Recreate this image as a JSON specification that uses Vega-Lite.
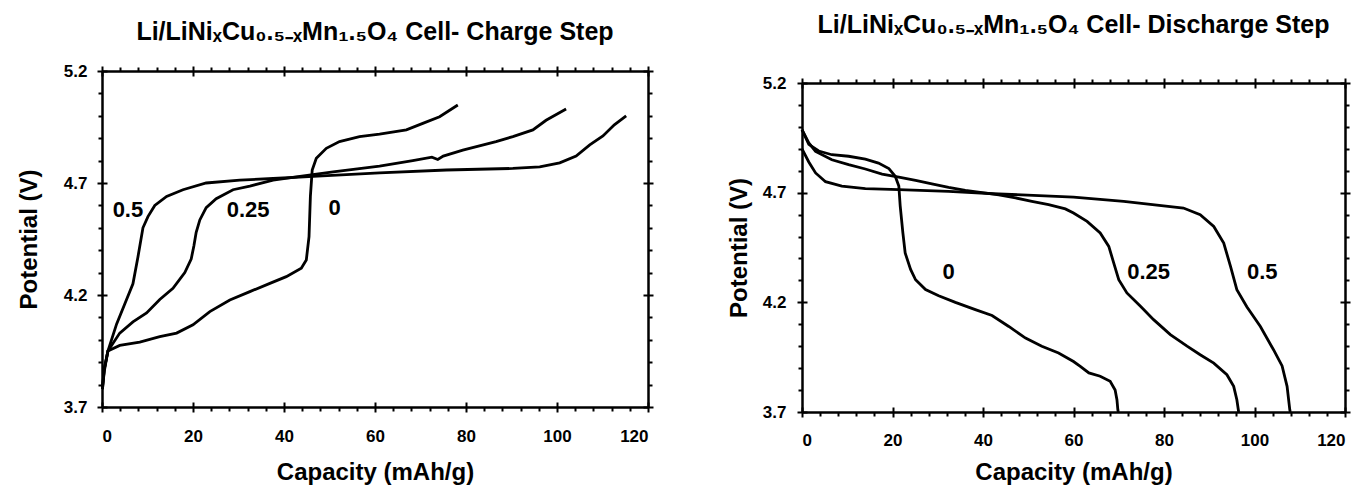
{
  "$schema": "https://vega.github.io/schema/vega-lite/v6.json",
  "background": "white",
  "padding": {"left": 17, "top": 13, "right": 5, "bottom": 5},
  "spacing": 73,
  "config": {
    "view": {"stroke": null},
    "font": "Liberation Sans",
    "axis": {
      "grid": false,
      "labelFont": "Liberation Sans", "labelFontWeight": "bold", "labelFontSize": 16, "labelColor": "black",
      "titleFont": "Liberation Sans", "titleFontWeight": "bold", "titleFontSize": 24, "titleColor": "black",
      "domainColor": "black", "domainWidth": 2.5, "tickColor": "black", "tickWidth": 2
    },
    "title": {"font": "Liberation Sans", "fontWeight": "bold", "fontSize": 25, "color": "black"}
  },
  "datasets": {
    "charge": [
      {"s":"0.5","i":0,"c":0.1,"v":3.78},{"s":"0.5","i":1,"c":0.5,"v":3.86},{"s":"0.5","i":2,"c":1.3,"v":3.95},{"s":"0.5","i":3,"c":3.2,"v":4.07},{"s":"0.5","i":4,"c":5.0,"v":4.16},{"s":"0.5","i":5,"c":6.8,"v":4.25},{"s":"0.5","i":6,"c":7.9,"v":4.37},{"s":"0.5","i":7,"c":9.0,"v":4.50},{"s":"0.5","i":8,"c":10.1,"v":4.55},{"s":"0.5","i":9,"c":11.6,"v":4.60},{"s":"0.5","i":10,"c":14.2,"v":4.64},{"s":"0.5","i":11,"c":17.8,"v":4.67},{"s":"0.5","i":12,"c":22.9,"v":4.70},{"s":"0.5","i":13,"c":30.3,"v":4.713},{"s":"0.5","i":14,"c":37.6,"v":4.72},{"s":"0.5","i":15,"c":46.4,"v":4.73},{"s":"0.5","i":16,"c":61.0,"v":4.745},{"s":"0.5","i":17,"c":75.7,"v":4.758},{"s":"0.5","i":18,"c":90.3,"v":4.765},{"s":"0.5","i":19,"c":96.2,"v":4.772},{"s":"0.5","i":20,"c":100.6,"v":4.79},{"s":"0.5","i":21,"c":104.2,"v":4.82},{"s":"0.5","i":22,"c":107.2,"v":4.87},{"s":"0.5","i":23,"c":110.1,"v":4.91},{"s":"0.5","i":24,"c":112.6,"v":4.96},{"s":"0.5","i":25,"c":115.2,"v":5.0},
      {"s":"0.25","i":0,"c":0.1,"v":3.79},{"s":"0.25","i":1,"c":0.5,"v":3.87},{"s":"0.25","i":2,"c":1.3,"v":3.95},{"s":"0.25","i":3,"c":3.9,"v":4.03},{"s":"0.25","i":4,"c":6.8,"v":4.08},{"s":"0.25","i":5,"c":9.8,"v":4.12},{"s":"0.25","i":6,"c":12.7,"v":4.18},{"s":"0.25","i":7,"c":15.6,"v":4.23},{"s":"0.25","i":8,"c":18.2,"v":4.30},{"s":"0.25","i":9,"c":19.6,"v":4.36},{"s":"0.25","i":10,"c":20.2,"v":4.42},{"s":"0.25","i":11,"c":20.7,"v":4.48},{"s":"0.25","i":12,"c":21.5,"v":4.535},{"s":"0.25","i":13,"c":22.9,"v":4.59},{"s":"0.25","i":14,"c":25.1,"v":4.63},{"s":"0.25","i":15,"c":28.8,"v":4.67},{"s":"0.25","i":16,"c":32.5,"v":4.686},{"s":"0.25","i":17,"c":37.6,"v":4.713},{"s":"0.25","i":18,"c":43.5,"v":4.73},{"s":"0.25","i":19,"c":50.8,"v":4.75},{"s":"0.25","i":20,"c":61.0,"v":4.775},{"s":"0.25","i":21,"c":68.3,"v":4.80},{"s":"0.25","i":22,"c":72.5,"v":4.815},{"s":"0.25","i":23,"c":73.8,"v":4.805},{"s":"0.25","i":24,"c":75.0,"v":4.82},{"s":"0.25","i":25,"c":79.3,"v":4.847},{"s":"0.25","i":26,"c":86.6,"v":4.885},{"s":"0.25","i":27,"c":90.3,"v":4.907},{"s":"0.25","i":28,"c":94.7,"v":4.937},{"s":"0.25","i":29,"c":97.6,"v":4.98},{"s":"0.25","i":30,"c":102.0,"v":5.03},
      {"s":"0","i":0,"c":0.1,"v":3.78},{"s":"0","i":1,"c":0.5,"v":3.87},{"s":"0","i":2,"c":1.3,"v":3.95},{"s":"0","i":3,"c":3.9,"v":3.975},{"s":"0","i":4,"c":8.3,"v":3.99},{"s":"0","i":5,"c":12.7,"v":4.014},{"s":"0","i":6,"c":16.4,"v":4.03},{"s":"0","i":7,"c":20.0,"v":4.067},{"s":"0","i":8,"c":23.7,"v":4.126},{"s":"0","i":9,"c":28.1,"v":4.178},{"s":"0","i":10,"c":32.5,"v":4.215},{"s":"0","i":11,"c":36.9,"v":4.252},{"s":"0","i":12,"c":40.5,"v":4.282},{"s":"0","i":13,"c":43.8,"v":4.32},{"s":"0","i":14,"c":44.9,"v":4.356},{"s":"0","i":15,"c":45.5,"v":4.46},{"s":"0","i":16,"c":45.8,"v":4.64},{"s":"0","i":17,"c":46.2,"v":4.758},{"s":"0","i":18,"c":47.1,"v":4.81},{"s":"0","i":19,"c":49.3,"v":4.855},{"s":"0","i":20,"c":52.2,"v":4.885},{"s":"0","i":21,"c":56.6,"v":4.907},{"s":"0","i":22,"c":61.0,"v":4.918},{"s":"0","i":23,"c":66.9,"v":4.937},{"s":"0","i":24,"c":70.5,"v":4.966},{"s":"0","i":25,"c":74.2,"v":4.996},{"s":"0","i":26,"c":78.2,"v":5.048}
    ],
    "discharge": [
      {"s":"0","i":0,"c":0,"v":4.987},{"s":"0","i":1,"c":1.5,"v":4.92},{"s":"0","i":2,"c":3.7,"v":4.89},{"s":"0","i":3,"c":6.6,"v":4.873},{"s":"0","i":4,"c":10.3,"v":4.866},{"s":"0","i":5,"c":14.0,"v":4.853},{"s":"0","i":6,"c":16.9,"v":4.835},{"s":"0","i":7,"c":19.2,"v":4.81},{"s":"0","i":8,"c":20.6,"v":4.775},{"s":"0","i":9,"c":21.4,"v":4.73},{"s":"0","i":10,"c":21.7,"v":4.64},{"s":"0","i":11,"c":22.3,"v":4.516},{"s":"0","i":12,"c":22.8,"v":4.425},{"s":"0","i":13,"c":24.0,"v":4.35},{"s":"0","i":14,"c":25.1,"v":4.303},{"s":"0","i":15,"c":27.3,"v":4.258},{"s":"0","i":16,"c":30.2,"v":4.23},{"s":"0","i":17,"c":33.9,"v":4.2},{"s":"0","i":18,"c":38.3,"v":4.167},{"s":"0","i":19,"c":42.0,"v":4.14},{"s":"0","i":20,"c":45.7,"v":4.09},{"s":"0","i":21,"c":49.4,"v":4.037},{"s":"0","i":22,"c":53.0,"v":4.0},{"s":"0","i":23,"c":56.7,"v":3.969},{"s":"0","i":24,"c":60.0,"v":3.93},{"s":"0","i":25,"c":61.5,"v":3.908},{"s":"0","i":26,"c":63.4,"v":3.878},{"s":"0","i":27,"c":65.9,"v":3.863},{"s":"0","i":28,"c":68.1,"v":3.84},{"s":"0","i":29,"c":69.2,"v":3.8},{"s":"0","i":30,"c":69.6,"v":3.756},{"s":"0","i":31,"c":69.8,"v":3.71},{"s":"0","i":32,"c":69.9,"v":3.7},
      {"s":"0.25","i":0,"c":0,"v":4.987},{"s":"0.25","i":1,"c":1.5,"v":4.927},{"s":"0.25","i":2,"c":3.0,"v":4.888},{"s":"0.25","i":3,"c":6.6,"v":4.85},{"s":"0.25","i":4,"c":10.3,"v":4.828},{"s":"0.25","i":5,"c":14.0,"v":4.808},{"s":"0.25","i":6,"c":17.7,"v":4.785},{"s":"0.25","i":7,"c":21.4,"v":4.771},{"s":"0.25","i":8,"c":25.1,"v":4.756},{"s":"0.25","i":9,"c":28.7,"v":4.74},{"s":"0.25","i":10,"c":32.4,"v":4.724},{"s":"0.25","i":11,"c":36.1,"v":4.71},{"s":"0.25","i":12,"c":39.8,"v":4.7},{"s":"0.25","i":13,"c":43.5,"v":4.69},{"s":"0.25","i":14,"c":47.2,"v":4.676},{"s":"0.25","i":15,"c":50.8,"v":4.66},{"s":"0.25","i":16,"c":54.5,"v":4.645},{"s":"0.25","i":17,"c":58.2,"v":4.626},{"s":"0.25","i":18,"c":60.0,"v":4.607},{"s":"0.25","i":19,"c":63.0,"v":4.569},{"s":"0.25","i":20,"c":65.9,"v":4.516},{"s":"0.25","i":21,"c":67.8,"v":4.455},{"s":"0.25","i":22,"c":68.9,"v":4.379},{"s":"0.25","i":23,"c":70.0,"v":4.303},{"s":"0.25","i":24,"c":71.8,"v":4.243},{"s":"0.25","i":25,"c":74.8,"v":4.182},{"s":"0.25","i":26,"c":77.7,"v":4.121},{"s":"0.25","i":27,"c":81.4,"v":4.053},{"s":"0.25","i":28,"c":85.1,"v":4.0},{"s":"0.25","i":29,"c":88.0,"v":3.961},{"s":"0.25","i":30,"c":91.0,"v":3.923},{"s":"0.25","i":31,"c":93.9,"v":3.87},{"s":"0.25","i":32,"c":95.4,"v":3.817},{"s":"0.25","i":33,"c":96.1,"v":3.756},{"s":"0.25","i":34,"c":96.5,"v":3.7},
      {"s":"0.5","i":0,"c":0,"v":4.9},{"s":"0.5","i":1,"c":1.5,"v":4.84},{"s":"0.5","i":2,"c":3.0,"v":4.79},{"s":"0.5","i":3,"c":5.2,"v":4.75},{"s":"0.5","i":4,"c":8.8,"v":4.73},{"s":"0.5","i":5,"c":14.0,"v":4.718},{"s":"0.5","i":6,"c":21.4,"v":4.714},{"s":"0.5","i":7,"c":32.4,"v":4.706},{"s":"0.5","i":8,"c":43.5,"v":4.694},{"s":"0.5","i":9,"c":60.0,"v":4.68},{"s":"0.5","i":10,"c":71.1,"v":4.66},{"s":"0.5","i":11,"c":84.3,"v":4.63},{"s":"0.5","i":12,"c":88.0,"v":4.6},{"s":"0.5","i":13,"c":91.0,"v":4.546},{"s":"0.5","i":14,"c":93.2,"v":4.47},{"s":"0.5","i":15,"c":94.7,"v":4.364},{"s":"0.5","i":16,"c":96.1,"v":4.258},{"s":"0.5","i":17,"c":98.3,"v":4.18},{"s":"0.5","i":18,"c":101.3,"v":4.09},{"s":"0.5","i":19,"c":104.2,"v":3.984},{"s":"0.5","i":20,"c":106.1,"v":3.91},{"s":"0.5","i":21,"c":107.2,"v":3.817},{"s":"0.5","i":22,"c":107.8,"v":3.71},{"s":"0.5","i":23,"c":107.9,"v":3.7}
    ],
    "lab_c": [{"c":5.7,"v":4.58,"t":"0.5"},{"c":32.1,"v":4.58,"t":"0.25"},{"c":51.1,"v":4.59,"t":"0"}],
    "lab_d": [{"c":32.4,"v":4.34,"t":"0"},{"c":76.6,"v":4.337,"t":"0.25"},{"c":101.7,"v":4.337,"t":"0.5"}]
  },
  "hconcat": [
    {
      "width": 546, "height": 336,
      "title": {"text": "Li/LiNiₓCu₀.₅₋ₓMn₁.₅O₄ Cell- Charge Step", "offset": 17},
      "data": {"name": "charge"},
      "layer": [
        {
          "mark": {"type": "line", "color": "black", "strokeWidth": 2.8},
          "encoding": {
            "x": {"field": "c", "type": "quantitative", "scale": {"domain": [0, 120], "nice": false, "zero": false},
              "axis": {"orient": "bottom", "values": [0,20,40,60,80,100,120], "format": "d", "tickSize": 5, "labelPadding": 16, "labelFontSize": 17, "labelFontWeight": "bold", "title": "Capacity (mAh/g)", "titlePadding": 16}},
            "y": {"field": "v", "type": "quantitative", "scale": {"domain": [3.7, 5.2], "nice": false, "zero": false},
              "axis": {"orient": "left", "values": [3.7,4.2,4.7,5.2], "format": ".1f", "tickSize": 5, "labelPadding": 10, "labelFontSize": 17, "labelFontWeight": "bold", "title": "Potential (V)", "titlePadding": 22}},
            "detail": {"field": "s"},
            "order": {"field": "i"}
          }
        },
        {
          "data": {"name": "lab_c"},
          "mark": {"type": "text", "font": "Liberation Sans", "fontWeight": "bold", "fontSize": 22, "align": "center", "baseline": "middle", "color": "black"},
          "encoding": {
            "x": {"field": "c", "type": "quantitative", "scale": {"domain": [0, 120], "nice": false, "zero": false},
              "axis": {"orient": "bottom", "values": [0,4,8,12,16,20,24,28,32,36,40,44,48,52,56,60,64,68,72,76,80,84,88,92,96,100,104,108,112,116,120], "labels": false, "domain": false, "title": null,
                "tickSize": {"condition": {"test": "datum.value % 20 === 0", "value": -5}, "value": 4}}},
            "y": {"field": "v", "type": "quantitative", "scale": {"domain": [3.7, 5.2], "nice": false, "zero": false},
              "axis": {"orient": "left", "values": [3.7,3.8,3.9,4.0,4.1,4.2,4.3,4.4,4.5,4.6,4.7,4.8,4.9,5.0,5.1,5.2], "labels": false, "domain": false, "title": null,
                "tickSize": {"condition": {"test": "round(datum.value*10) % 5 === 2", "value": -5}, "value": 4}}},
            "text": {"field": "t"}
          }
        },
        {
          "mark": {"type": "line", "opacity": 0},
          "encoding": {
            "x": {"field": "c", "type": "quantitative", "axis": {"orient": "top", "values": [0,20,40,60,80,100,120], "labels": false, "tickSize": 5, "title": null}},
            "y": {"field": "v", "type": "quantitative", "axis": {"orient": "right", "values": [3.7,4.2,4.7,5.2], "labels": false, "tickSize": 5, "title": null}},
            "detail": {"field": "s"}
          }
        },
        {
          "mark": {"type": "line", "opacity": 0},
          "encoding": {
            "x": {"field": "c", "type": "quantitative", "axis": {"orient": "top", "values": [0,4,8,12,16,20,24,28,32,36,40,44,48,52,56,60,64,68,72,76,80,84,88,92,96,100,104,108,112,116,120], "labels": false, "domain": false, "title": null,
                "tickSize": {"condition": {"test": "datum.value % 20 === 0", "value": -5}, "value": 4}}},
            "y": {"field": "v", "type": "quantitative", "axis": {"orient": "right", "values": [3.7,3.8,3.9,4.0,4.1,4.2,4.3,4.4,4.5,4.6,4.7,4.8,4.9,5.0,5.1,5.2], "labels": false, "domain": false, "title": null,
                "tickSize": {"condition": {"test": "round(datum.value*10) % 5 === 2", "value": -5}, "value": 4}}},
            "detail": {"field": "s"}
          }
        }
      ],
      "resolve": {"axis": {"x": "independent", "y": "independent"}}
    },
    {
      "width": 543, "height": 341,
      "title": {"text": "Li/LiNiₓCu₀.₅₋ₓMn₁.₅O₄ Cell- Discharge Step", "offset": 33},
      "data": {"name": "discharge"},
      "layer": [
        {
          "mark": {"type": "line", "color": "black", "strokeWidth": 2.8},
          "encoding": {
            "x": {"field": "c", "type": "quantitative", "scale": {"domain": [0, 120], "nice": false, "zero": false},
              "axis": {"orient": "bottom", "values": [0,20,40,60,80,100,120], "format": "d", "tickSize": 5, "labelPadding": 15, "labelFontSize": 17, "labelFontWeight": "bold", "title": "Capacity (mAh/g)", "titlePadding": 12}},
            "y": {"field": "v", "type": "quantitative", "scale": {"domain": [3.7, 5.2], "nice": false, "zero": false, "range": [341, 12]},
              "axis": {"orient": "left", "values": [3.7,4.2,4.7,5.2], "format": ".1f", "tickSize": 5, "labelPadding": 11, "labelFontSize": 17, "labelFontWeight": "bold", "title": "Potential (V)", "titlePadding": 11}},
            "detail": {"field": "s"},
            "order": {"field": "i"}
          }
        },
        {
          "data": {"name": "lab_d"},
          "mark": {"type": "text", "font": "Liberation Sans", "fontWeight": "bold", "fontSize": 22, "align": "center", "baseline": "middle", "color": "black"},
          "encoding": {
            "x": {"field": "c", "type": "quantitative", "scale": {"domain": [0, 120], "nice": false, "zero": false},
              "axis": {"orient": "bottom", "values": [0,4,8,12,16,20,24,28,32,36,40,44,48,52,56,60,64,68,72,76,80,84,88,92,96,100,104,108,112,116,120], "labels": false, "domain": false, "title": null,
                "tickSize": {"condition": {"test": "datum.value % 20 === 0", "value": -5}, "value": 4}}},
            "y": {"field": "v", "type": "quantitative", "scale": {"domain": [3.7, 5.2], "nice": false, "zero": false, "range": [341, 12]},
              "axis": {"orient": "left", "values": [3.7,3.8,3.9,4.0,4.1,4.2,4.3,4.4,4.5,4.6,4.7,4.8,4.9,5.0,5.1,5.2], "labels": false, "domain": false, "title": null,
                "tickSize": {"condition": {"test": "round(datum.value*10) % 5 === 2", "value": -5}, "value": 4}}},
            "text": {"field": "t"}
          }
        },
        {
          "mark": {"type": "line", "opacity": 0},
          "encoding": {
            "x": {"field": "c", "type": "quantitative", "axis": {"orient": "top", "offset": -12, "values": [0,20,40,60,80,100,120], "labels": false, "tickSize": 5, "title": null}},
            "y": {"field": "v", "type": "quantitative", "axis": {"orient": "right", "values": [3.7,4.2,4.7,5.2], "labels": false, "tickSize": 5, "title": null}},
            "detail": {"field": "s"}
          }
        },
        {
          "mark": {"type": "line", "opacity": 0},
          "encoding": {
            "x": {"field": "c", "type": "quantitative", "axis": {"orient": "top", "offset": -12, "values": [0,4,8,12,16,20,24,28,32,36,40,44,48,52,56,60,64,68,72,76,80,84,88,92,96,100,104,108,112,116,120], "labels": false, "domain": false, "title": null,
                "tickSize": {"condition": {"test": "datum.value % 20 === 0", "value": -5}, "value": 4}}},
            "y": {"field": "v", "type": "quantitative", "axis": {"orient": "right", "values": [3.7,3.8,3.9,4.0,4.1,4.2,4.3,4.4,4.5,4.6,4.7,4.8,4.9,5.0,5.1,5.2], "labels": false, "domain": false, "title": null,
                "tickSize": {"condition": {"test": "round(datum.value*10) % 5 === 2", "value": -5}, "value": 4}}},
            "detail": {"field": "s"}
          }
        }
      ],
      "resolve": {"axis": {"x": "independent", "y": "independent"}}
    }
  ]
}
